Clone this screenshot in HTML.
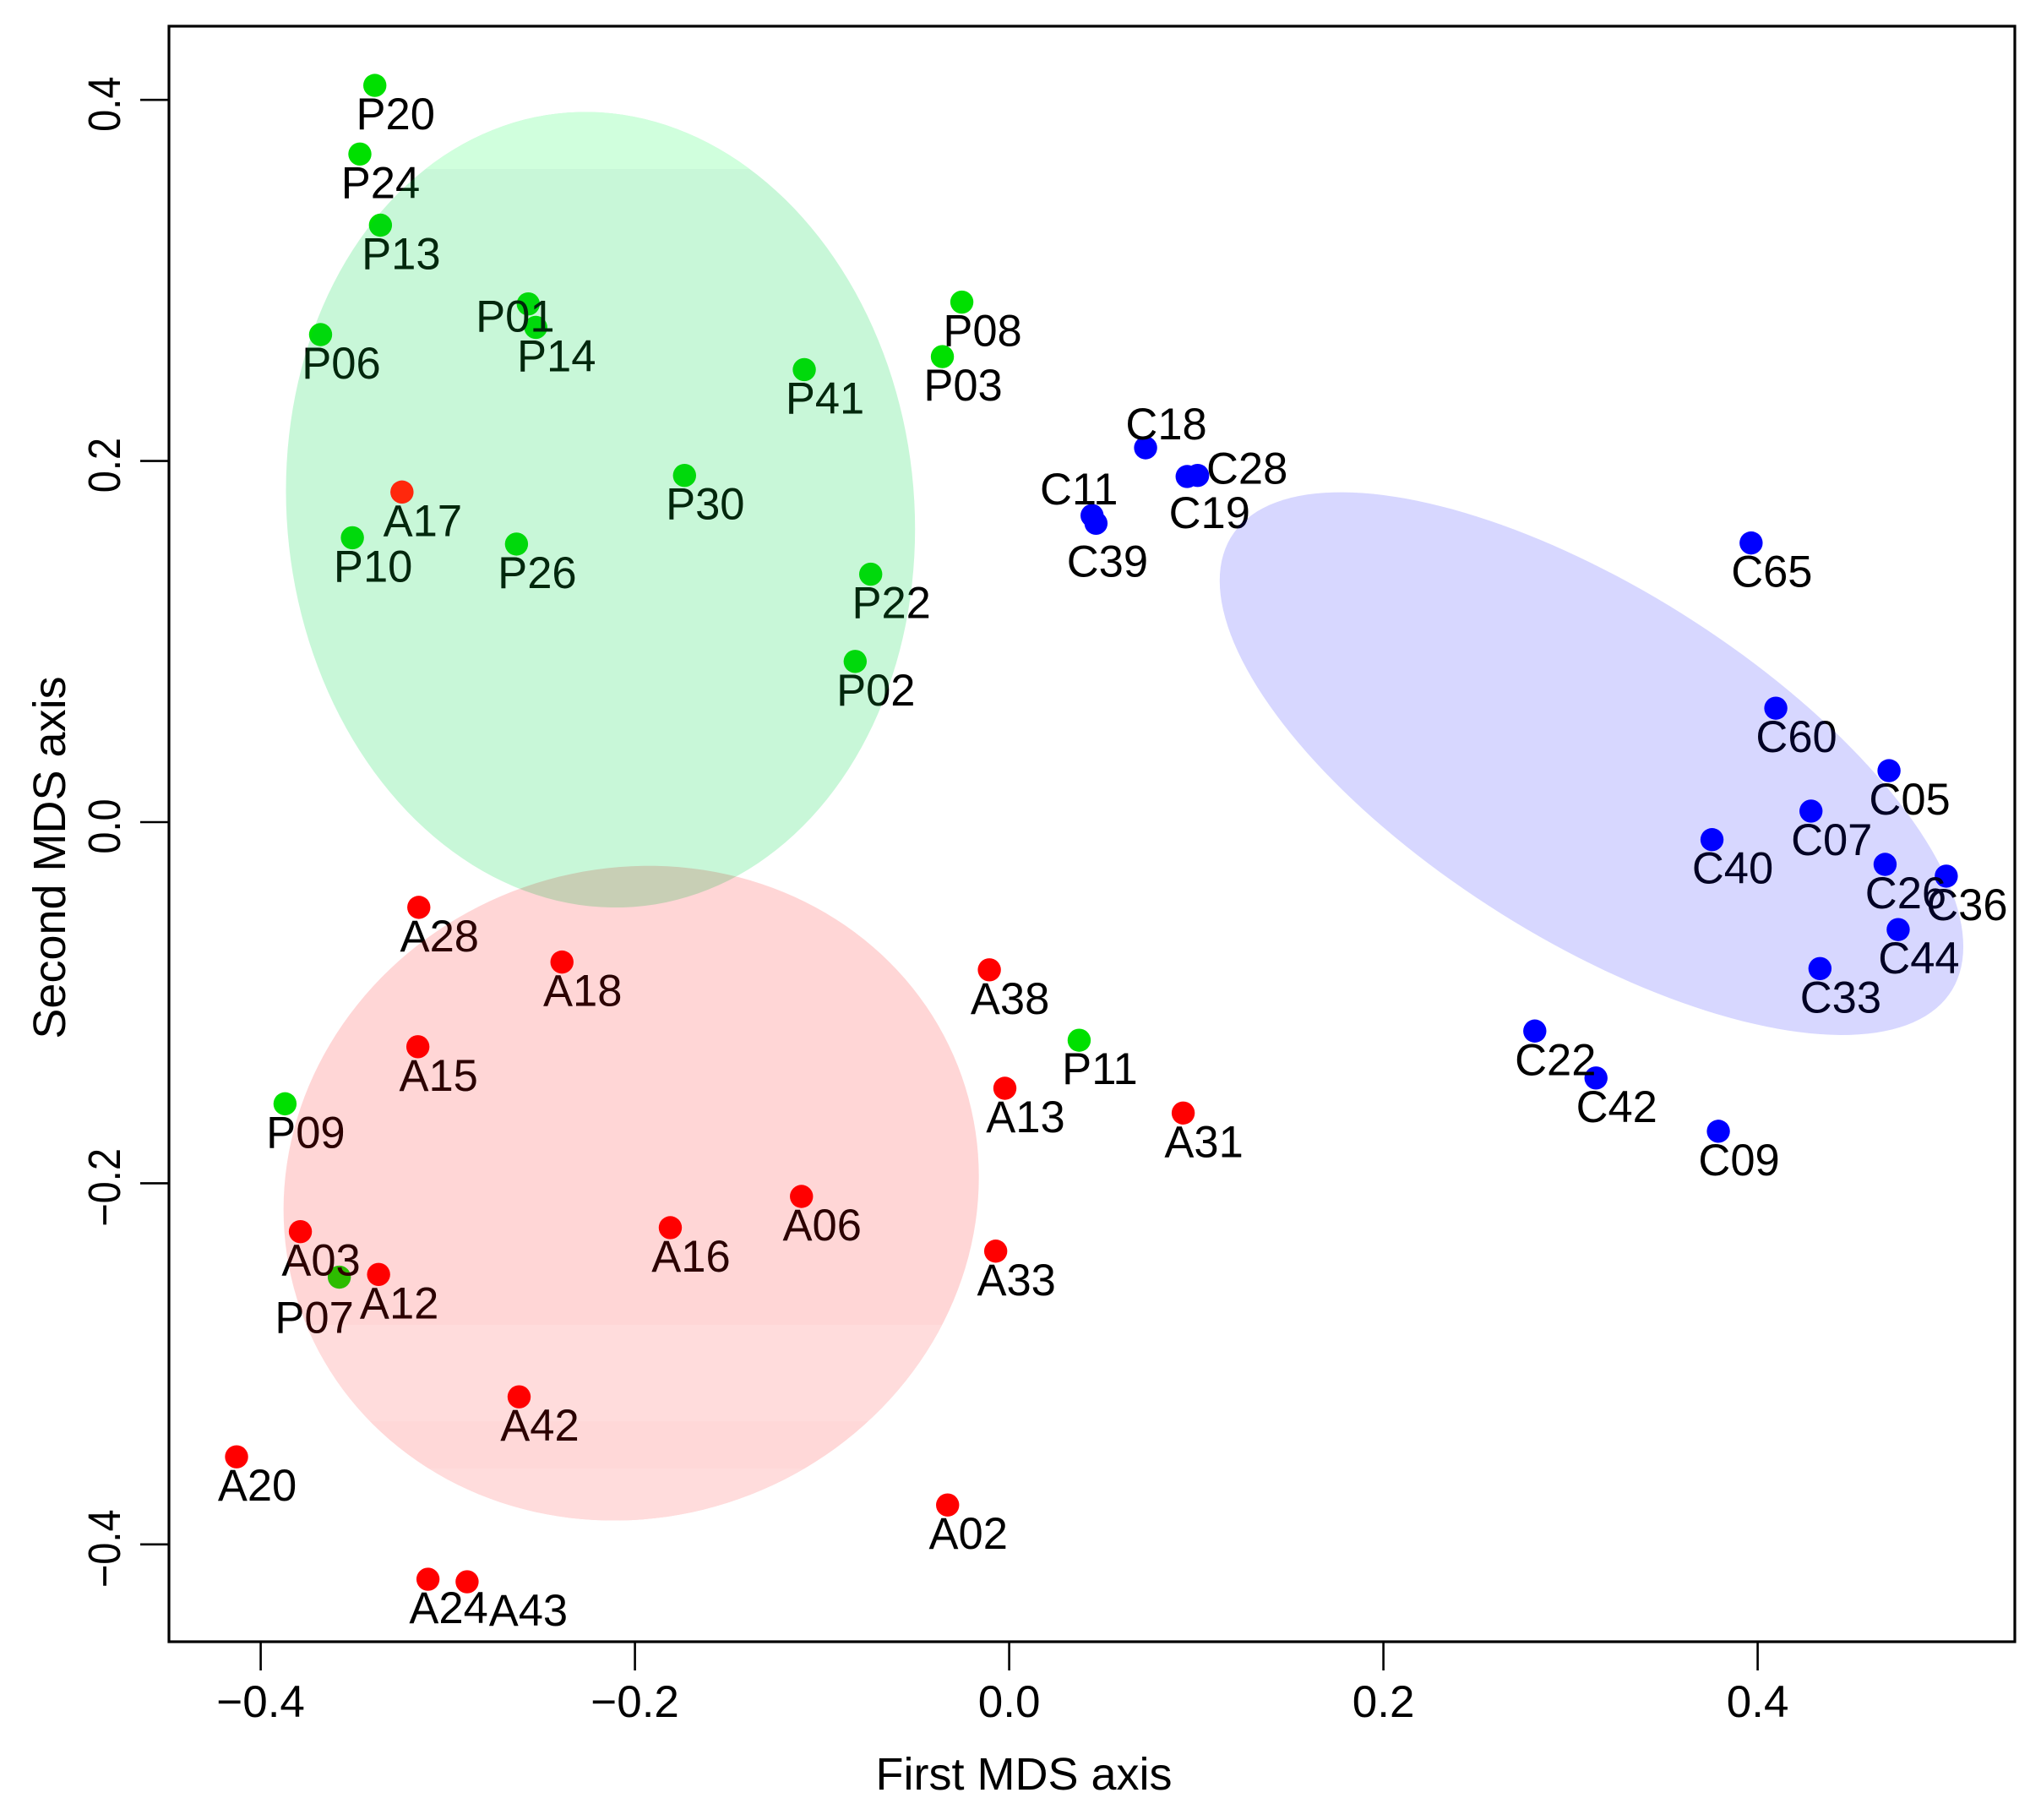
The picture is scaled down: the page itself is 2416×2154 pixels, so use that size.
<!DOCTYPE html>
<html lang="en">
<head>
<meta charset="utf-8">
<title>MDS ordination plot</title>
<style>
  html, body { margin: 0; padding: 0; background: #ffffff; }
  svg { display: block; font-family: "Liberation Sans", Arial, sans-serif; }
  text { fill: #000000; }
</style>
</head>
<body>
<svg id="chart" xmlns="http://www.w3.org/2000/svg" width="2416" height="2154" viewBox="0 0 2416 2154">
  <rect x="0" y="0" width="2416" height="2154" fill="#ffffff"/>
  <defs id="chart-defs"></defs>
  <g id="under-points-layer"></g>
  <g id="ellipses-layer"></g>
  <g id="over-points-layer"></g>
  <g id="labels-layer"></g>
  <g id="tints-layer"></g>
  <g id="axes-layer"></g>
</svg>
<script>
// ---- chart data (MDS axis units) ----
const pNames = ["P20","P24","P13","P06","P01","P14","P41","P08","P03","P30","P10","P26","P22","P02","P11","P09","P07"];
const pFirst = [-0.339,-0.347,-0.336,-0.368,-0.257,-0.253,-0.1095,-0.0253,-0.0357,-0.1735,-0.351,-0.2633,-0.074,-0.0823,0.0374,-0.387,-0.358];
const pSecond = [0.408,0.370,0.3306,0.270,0.287,0.274,0.2506,0.288,0.2578,0.192,0.1575,0.154,0.1373,0.089,-0.1208,-0.156,-0.252];

const aNames = ["A17","A28","A18","A15","A38","A13","A31","A06","A16","A33","A03","A12","A42","A20","A02","A24","A43"];
const aFirst = [-0.3245,-0.3155,-0.239,-0.316,-0.0106,-0.0023,0.093,-0.111,-0.1811,-0.0072,-0.3788,-0.337,-0.2619,-0.4129,-0.0329,-0.3106,-0.2897];
const aSecond = [0.1828,-0.0472,-0.0775,-0.1244,-0.0818,-0.1474,-0.1611,-0.2073,-0.2246,-0.2376,-0.2268,-0.2505,-0.3183,-0.3515,-0.3782,-0.4193,-0.4207];

const cNames = ["C18","C28","C19","C11","C39","C65","C60","C05","C07","C40","C26","C36","C44","C33","C22","C42","C09"];
const cFirst = [0.0729,0.1007,0.0951,0.0443,0.0464,0.3965,0.4097,0.4702,0.4285,0.3756,0.4681,0.5008,0.4751,0.4333,0.2809,0.3136,0.379];
const cSecond = [0.2073,0.192,0.1914,0.1698,0.1655,0.1546,0.0631,0.0285,0.0061,-0.0097,-0.0234,-0.0299,-0.0595,-0.0811,-0.1157,-0.1417,-0.1712];

const xTickValues = [-0.4,-0.2,0,0.2,0.4];
const yTickValues = [-0.4,-0.2,0,0.2,0.4];
const xTickLabels = ["\u22120.4","\u22120.2","0.0","0.2","0.4"];
const yTickLabels = ["\u22120.4","\u22120.2","0.0","0.2","0.4"];

// group ellipses: centre, spread and correlation in axis units
const ellipseGroups = ["patients","controls-a","controls-c"];
const ellipseCenterX = [-0.2184,-0.2020,0.3112];
const ellipseCenterY = [0.1730,-0.2055,0.0324];
const ellipseSpreadX = [0.1681,0.1858,0.1987];
const ellipseSpreadY = [0.2203,0.1813,0.1503];
const ellipseCorr = [-0.048,0.05,-0.674];

// ---- scales ----
const PLOT = { left: 200, right: 2385, top: 31, bottom: 1943 };
function xScale(v) { return 1194.6 + v * 2215; }
function yScale(v) { return 973 - v * 2137; }

// label placement: default is lower right of the point; a few are nudged to avoid overlaps
const LABEL_DX = 24.5;
const LABEL_DY = 52;
const labelNudge = {
  P01: [-40, -19], C28: [34, -42], C19: [2, 9], C18: [0, -62], C11: [-40, -65],
  C39: [-11, 11], P07: [-54, 14], A43: [48, 0]
};

const NS = "http://www.w3.org/2000/svg";
function make(tag, parent) {
  const node = document.createElementNS(NS, tag);
  parent.appendChild(node);
  return node;
}
const underPoints = document.getElementById("under-points-layer");
const overPoints = document.getElementById("over-points-layer");
const labelsLayer = document.getElementById("labels-layer");
const ellipsesLayer = document.getElementById("ellipses-layer");
const tintsLayer = document.getElementById("tints-layer");
const axesLayer = document.getElementById("axes-layer");
const defsLayer = document.getElementById("chart-defs");

function drawSeries(names, xs, ys, color, layer) {
  names.forEach(function (name, i) {
    const dot = make("circle", layer);
    dot.setAttribute("cx", xScale(xs[i]));
    dot.setAttribute("cy", yScale(ys[i]));
    dot.setAttribute("r", 13.7);
    dot.setAttribute("fill", color);
    
    
  });
}
function drawLabels(names, xs, ys) {
  names.forEach(function (name, i) {
    const nudge = labelNudge[name] || [0, 0];
    const label = make("text", labelsLayer);
    label.setAttribute("x", xScale(xs[i]) + LABEL_DX + nudge[0]);
    label.setAttribute("y", yScale(ys[i]) + LABEL_DY + nudge[1]);
    label.setAttribute("text-anchor", "middle");
    label.setAttribute("font-size", "52.5");
    label.textContent = name;
    
    
  });
}
drawSeries(pNames, pFirst, pSecond, "#00e000", underPoints);
drawSeries(cNames, cFirst, cSecond, "#0000ff", underPoints);
drawSeries(aNames, aFirst, aSecond, "#ff0000", overPoints);
drawLabels(pNames, pFirst, pSecond);
drawLabels(aNames, aFirst, aSecond);
drawLabels(cNames, cFirst, cSecond);

// ---- ellipses ----
function ellipsePath(k) {
  const steps = 180;
  const shear = Math.sqrt(1 - ellipseCorr[k] * ellipseCorr[k]);
  let d = "";
  for (let s = 0; s < steps; s++) {
    const t = 2 * Math.PI * s / steps;
    const ux = Math.cos(t);
    const uy = ellipseCorr[k] * Math.cos(t) + shear * Math.sin(t);
    const px = xScale(ellipseCenterX[k] + ellipseSpreadX[k] * ux);
    const py = yScale(ellipseCenterY[k] + ellipseSpreadY[k] * uy);
    d += (s === 0 ? "M" : "L") + px.toFixed(2) + " " + py.toFixed(2);
  }
  return d + "Z";
}
const ellipseFills = ["#c8f7d8", "#ffd6d6", "#d7d7ff"];
const ellipseTints = ["rgb(0,40,12)", "rgb(45,0,0)", "rgb(0,0,38)"];
const paintOrder = [2, 0, 1];
const ellipseGroupNodes = {};
paintOrder.forEach(function (k) {
  const group = make("g", ellipsesLayer);
  group.setAttribute("style", "mix-blend-mode:multiply");
  
  
  ellipseGroupNodes[k] = group;
  const shape = make("path", group);
  shape.setAttribute("d", ellipsePath(k));
  shape.setAttribute("fill", ellipseFills[k]);
  
  
  const tint = make("path", tintsLayer);
  tint.setAttribute("d", ellipsePath(k));
  tint.setAttribute("fill", ellipseTints[k]);
  tint.setAttribute("style", "mix-blend-mode:lighten");
  
  
});

// faint horizontal shading bands seen inside the green and red ellipses
function addBand(k, top, bottom, color) {
  const clip = make("clipPath", defsLayer);
  const clipId = "band-clip-" + k + "-" + Math.round(top);
  clip.setAttribute("id", clipId);
  const clipShape = make("path", clip);
  clipShape.setAttribute("d", ellipsePath(k));
  const band = make("rect", ellipseGroupNodes[k]);
  band.setAttribute("x", PLOT.left);
  band.setAttribute("y", top);
  band.setAttribute("width", PLOT.right - PLOT.left);
  band.setAttribute("height", bottom - top);
  band.setAttribute("fill", color);
  band.setAttribute("clip-path", "url(#" + clipId + ")");
  
  
}
addBand(0, 100, 200, "#d0ffdd");
addBand(1, 1568, 1682, "#ffdcdc");
addBand(1, 1682, 1738, "#ffd8d8");
addBand(1, 1738, 1830, "#ffdcdc");

// ---- axes ----
const frame = make("rect", axesLayer);
frame.setAttribute("x", PLOT.left);
frame.setAttribute("y", PLOT.top);
frame.setAttribute("width", PLOT.right - PLOT.left);
frame.setAttribute("height", PLOT.bottom - PLOT.top);
frame.setAttribute("fill", "none");
frame.setAttribute("stroke", "#000000");
frame.setAttribute("stroke-width", "3.2");



xTickValues.forEach(function (v, i) {
  const tick = make("line", axesLayer);
  tick.setAttribute("x1", xScale(v));
  tick.setAttribute("x2", xScale(v));
  tick.setAttribute("y1", PLOT.bottom);
  tick.setAttribute("y2", PLOT.bottom + 34);
  tick.setAttribute("stroke", "#000000");
  tick.setAttribute("stroke-width", "2.6");
  
  
  const label = make("text", axesLayer);
  label.setAttribute("x", xScale(v));
  label.setAttribute("y", 2032);
  label.setAttribute("text-anchor", "middle");
  label.setAttribute("font-size", "53");
  label.textContent = xTickLabels[i];
  
  
});

yTickValues.forEach(function (v, i) {
  const tick = make("line", axesLayer);
  tick.setAttribute("x1", PLOT.left - 34);
  tick.setAttribute("x2", PLOT.left);
  tick.setAttribute("y1", yScale(v));
  tick.setAttribute("y2", yScale(v));
  tick.setAttribute("stroke", "#000000");
  tick.setAttribute("stroke-width", "2.6");
  
  
  const label = make("text", axesLayer);
  const ly = yScale(v) + 5;
  label.setAttribute("transform", "translate(142 " + ly + ") rotate(-90) scale(0.87 1)");
  label.setAttribute("text-anchor", "middle");
  label.setAttribute("font-size", "54");
  label.textContent = yTickLabels[i];
  
  
});

const xTitle = make("text", axesLayer);
xTitle.setAttribute("x", 1212);
xTitle.setAttribute("y", 2118);
xTitle.setAttribute("text-anchor", "middle");
xTitle.setAttribute("font-size", "54");
xTitle.textContent = "First MDS axis";



const yTitle = make("text", axesLayer);
yTitle.setAttribute("transform", "translate(77 1015) rotate(-90)");
yTitle.setAttribute("text-anchor", "middle");
yTitle.setAttribute("font-size", "54");
yTitle.textContent = "Second MDS axis";


</script>
</body>
</html>
